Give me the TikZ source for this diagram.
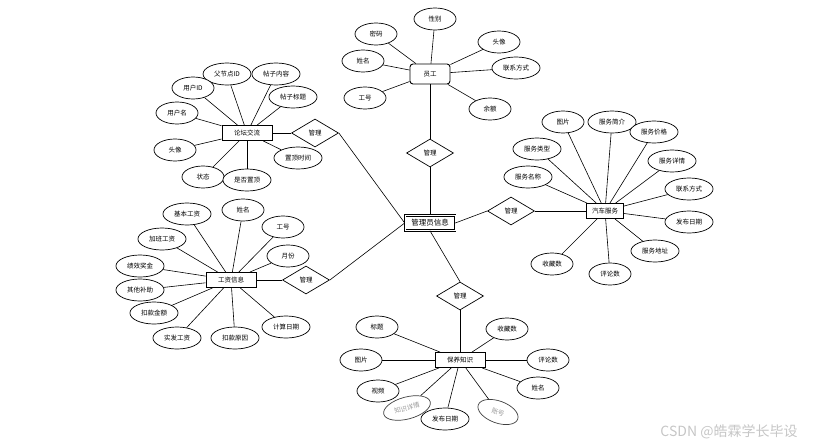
\documentclass[tikz,border=0pt]{standalone}
\usepackage{fontspec}
\newfontfamily\cjk{Noto Sans CJK SC}
\usetikzlibrary{shapes.geometric}
\tikzstyle{attr}=[shape=ellipse, draw, line width=0.7pt, minimum width=42pt, minimum height=22pt, inner xsep=4pt, inner ysep=1pt, fill=white, font=\cjk\fontsize{6.5}{7}\selectfont]
\tikzstyle{grayattr}=[attr, draw=black!75, text=gray!80]
\tikzstyle{ent}=[shape=rectangle, draw, line width=0.9pt, minimum width=50pt, minimum height=15pt, inner sep=1pt, fill=white, font=\cjk\fontsize{6.5}{7}\selectfont]
\tikzstyle{rel}=[shape=diamond, draw, line width=0.7pt, minimum width=47pt, minimum height=28pt, inner sep=0, aspect=1.7, fill=white, font=\cjk\fontsize{6.5}{7}\selectfont]
\tikzstyle{ln}=[line width=0.6pt]

\begin{document}
\begin{tikzpicture}[x=1pt, y=-1pt]
\useasboundingbox (0,0) rectangle (816,447);
\node at (430,223) [ent, double, double distance=1pt, line width=0.6pt, font=\cjk\fontsize{7.5}{8}\selectfont](admin){管理员信息};
\node at (430,153) [rel](r0){管理};
\node at (315,133) [rel](r1){管理};
\node at (306,280) [rel](r2){管理};
\node at (511,211) [rel](r3){管理};
\node at (460,296) [rel](r4){管理};
\node at (430,74) [ent, rounded corners=3pt, minimum width=40pt, minimum height=20pt](emp){员工};
\node at (247,133) [ent](forum){论坛交流};
\node at (231,280) [ent](wage){工资信息};
\node at (605,211) [ent, minimum width=37pt](car){汽车服务};
\node at (460,360) [ent](know){保养知识};
\draw[ln] (emp)--(r0)--(admin);
\draw[ln] (forum)--(r1.west);
\draw[ln] (r1.east)--(admin.west);
\draw[ln] (wage)--(r2.west);
\draw[ln] (r2.east)--(admin.west);
\draw[ln] (admin.east)--(r3.west);
\draw[ln] (r3.east)--(car);
\draw[ln] (admin.south)--(r4.north);
\draw[ln] (r4.south)--(know);
\node at (435,19) [attr](e1){性别};
\node at (376,34) [attr](e2){密码};
\node at (363,61) [attr](e3){姓名};
\node at (499,42) [attr](e4){头像};
\node at (516,68) [attr](e5){联系方式};
\node at (365,98) [attr](e6){工号};
\node at (490,109) [attr](e7){余额};
\foreach \i in {1,...,7} \draw[ln] (emp)--(e\i);
\node at (227,74) [attr](f1){父节点ID};
\node at (276,74) [attr](f2){帖子内容};
\node at (193,88) [attr](f3){用户ID};
\node at (293,97) [attr](f4){帖子标题};
\node at (177,113) [attr](f5){用户名};
\node at (175,150) [attr](f6){头像};
\node at (203,177) [attr](f7){状态};
\node at (247,180) [attr](f8){是否置顶};
\node at (298,158) [attr](f9){置顶时间};
\foreach \i in {1,...,9} \draw[ln] (forum)--(f\i);
\node at (187,214) [attr](w1){基本工资};
\node at (243,210) [attr](w2){姓名};
\node at (283,227) [attr](w3){工号};
\node at (162,239) [attr](w4){加班工资};
\node at (288,256) [attr](w5){月份};
\node at (140,266) [attr](w6){绩效奖金};
\node at (140,290) [attr](w7){其他补助};
\node at (154,313) [attr](w8){扣款金额};
\node at (177,338) [attr](w9){实发工资};
\node at (235,338) [attr](w10){扣款原因};
\node at (286,327) [attr](w11){计算日期};
\foreach \i in {1,...,11} \draw[ln] (wage)--(w\i);
\node at (563,122) [attr](c1){图片};
\node at (612,122) [attr](c2){服务简介};
\node at (654,132) [attr](c3){服务价格};
\node at (537,149) [attr](c4){服务类型};
\node at (672,161) [attr](c5){服务详情};
\node at (528,177) [attr](c6){服务名称};
\node at (689,189) [attr](c7){联系方式};
\node at (689,222) [attr](c8){发布日期};
\node at (655,251) [attr](c9){服务地址};
\node at (552,264) [attr](c10){收藏数};
\node at (610,274) [attr](c11){评论数};
\foreach \i in {1,...,11} \draw[ln] (car)--(c\i);
\node at (377,327) [attr](k1){标题};
\node at (361,360) [attr](k2){图片};
\node at (378,391) [attr](k3){视频};
\node at (407,408) [grayattr, rotate=15](k4){知识详情};
\node at (445,419) [attr](k5){发布日期};
\node at (498,412) [grayattr, rotate=-20](k6){账号};
\node at (538,388) [attr](k7){姓名};
\node at (548,360) [attr](k8){评论数};
\node at (507,329) [attr](k9){收藏数};
\foreach \i in {1,...,9} \draw[ln] (know)--(k\i);
\node at (729,432) [text=gray!45, font=\cjk\fontsize{14}{15}\selectfont](wm){CSDN @皓霖学长毕设};
\end{tikzpicture}
\end{document}
